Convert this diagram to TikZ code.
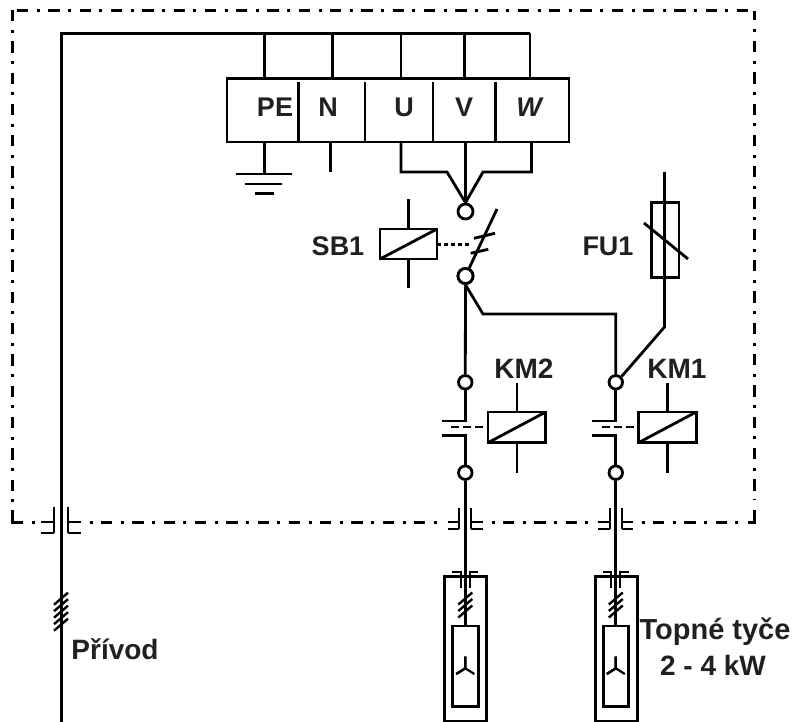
\documentclass[tikz,border=0pt]{standalone}
\usepackage{fontspec}
\setmainfont{Liberation Sans}
\definecolor{ink}{RGB}{35,31,32}
\tikzset{
  x=1pt,y=-1pt,
  wire/.style={line width=2.8pt,black,line join=miter},
  thin wire/.style={line width=2.2pt,black},
  frameline/.style={line width=3pt,black,dash pattern=on 11.3pt off 8.5pt on 3pt off 8.5pt},
  framestart/.style={frameline,dash phase=19.8pt},
  solidframe/.style={line width=3pt,black},
  term/.style={circle,draw=black,line width=2.8pt,fill=white,minimum size=15pt,inner sep=0pt},
  termb/.style={term,minimum size=13.5pt},
  lab/.style={font=\fontsize{27}{30}\selectfont\bfseries,text=ink,inner sep=0pt,anchor=center},
  labm/.style={font=\fontsize{28}{30}\selectfont\bfseries,text=ink,inner sep=0pt,anchor=center},
  labw/.style={font=\fontsize{29}{30}\selectfont\bfseries,text=ink,inner sep=0pt,anchor=center},
  coil/.style={draw=black,line width=2.8pt,fill=white,inner sep=0pt}
}
\newcommand{\bulkhead}[6]{% left v, right v, top, bottom, outer
  \draw[thin wire] (#2,#4) -- (#2,#5) (#3,#4) -- (#3,#5);
  \draw[thin wire] (#2-#6,#5) -- (#2,#5) (#3,#5) -- (#3+#6,#5);
  \draw[thin wire] (#2-#6,522) -- (#2,522) (#3,522) -- (#3+#6,522);
}
\newcommand{\heaterbulk}[1]{%
  \draw[thin wire] (#1-4.5,588) -- (#1-4.5,571.7) -- (#1-13,571.7);
  \draw[thin wire] (#1+4.5,588) -- (#1+4.5,571.7) -- (#1+13,571.7);
}
\newcommand{\ticks}[2]{% x, y-centre
  \draw[line width=2.4pt,black] (#1-7,#2+6) -- (#1+7,#2-6);
}
\newcommand{\coilsym}[5]{% name x1 x2 y1 y2
  \draw[coil] (#2,#4) rectangle (#3,#5);
  \draw[wire] (#2,#5) -- (#3,#4);
}
\begin{document}
\begin{tikzpicture}
\useasboundingbox (0,0) rectangle (793,722);
% ---- dash-dot enclosure
\draw[frameline] (17,10.5) -- (750,10.5);
\draw[frameline] (12,10) -- (12,509);
\draw[solidframe] (12,510) -- (12,522) -- (23,522);
\draw[solidframe] (32,522) -- (35,522);
\draw[frameline] (754,41) -- (754,500);
\draw[solidframe] (754,11) -- (754,20);
\draw[solidframe] (754,29) -- (754,32);
\draw[solidframe] (754,510) -- (754,522) -- (748,522);
\draw[framestart] (89.5,522) -- (441,522);
\draw[framestart] (491.5,522) -- (590,522);
\draw[framestart] (641.5,522) -- (739,522);
% ---- terminal block
\node[draw=black,line width=2.8pt,minimum width=342pt,minimum height=63.5pt,inner sep=0pt] (block) at (398,110.2) {};
\foreach \x in {298.5,365,433,495.5} \draw[thin wire] (\x,82) -- (\x,142);
\node[lab] (tpe) at (275,107) {PE};
\node[lab] (tn) at (328,107) {N};
\node[lab] (tu) at (404,107) {U};
\node[lab] (tv) at (464,107) {V};
\node[lab] (tw) at (529,107) {\itshape W};
% ---- supply
\coordinate (sbus) at (61,33.5);
\coordinate (send) at (530,33.5);
\draw[line width=3pt] (61,722) -- (sbus) -- (send);
\foreach \x in {264.5,332.5,401,464.5,530} \draw[wire] (\x,33.5) -- (\x,78);
\foreach \y in {598.7,605.2,611.7,618.2,624.7} \ticks{61}{\y}
% ---- below block
\draw[wire] (264.5,142) -- (264.5,174);
\draw[wire] (236,174) -- (292,174);
\draw[wire] (245,184) -- (282,184);
\draw[wire] (255,193.5) -- (274,193.5);
\draw[thin wire] (330.5,142) -- (330.5,172);
% ---- switch terminals
\node[term] (c1) at (465.5,211.5) {};
\node[term] (c2) at (465.5,276) {};
\node[termb] (k2t) at (465.3,382.3) {};
\node[termb] (k2b) at (465.3,472.7) {};
\node[termb] (k1t) at (615.8,382.3) {};
\node[termb] (k1b) at (615.8,472.7) {};
\draw[wire] (401,142) -- (401,172) -- (447,172) -- (c1.north);
\draw[wire] (531.5,142) -- (531.5,172) -- (483,172) -- (c1.north);
\draw[wire] (465.5,142) -- (c1.north);
\draw[wire] (c2) -- (497,209);
\node[term] at (c2) {};
\draw[wire] (474,238.3) -- (495,233.3);
\draw[wire] (470.7,253.3) -- (488.3,249.3);
\draw[line width=3pt,dash pattern=on 4pt off 3pt] (437,245) -- (470,245);
% SB1 coil
\draw[wire] (408.5,199) -- (408.5,229) (408.5,259) -- (408.5,288);
\coilsym{sb}{380}{437}{229}{259}
\node[lab] (sb1) at (338,246) {SB1};
% ---- branches
\draw[wire] (c2.south) -- (k2t.north);
\draw[wire] (c2.south) -- (483,314) -- (615.8,314) -- (k1t.north);
% KM2
\draw[wire] (k2t.south) -- (465.3,421) -- (441.7,421);
\draw[wire] (441.7,435.3) -- (465.3,435.3) -- (k2b.north);
\draw[thin wire,dash pattern=on 8pt off 4pt] (451,427.3) -- (488,427.3);
\draw[wire] (517,382.7) -- (517,412) (517,442.7) -- (517,472.7);
\coilsym{km2}{488}{545.7}{412}{442.7}
\node[labm] (km2l) at (524,369) {KM2};
% KM1
\draw[wire] (k1t.south) -- (615.8,421) -- (592.2,421);
\draw[wire] (592.2,435.3) -- (615.8,435.3) -- (k1b.north);
\draw[thin wire,dash pattern=on 8pt off 4pt] (601.5,427.3) -- (638.5,427.3);
\draw[wire] (667.5,382.7) -- (667.5,412) (667.5,442.7) -- (667.5,472.7);
\coilsym{km1}{638.5}{696.2}{412}{442.7}
\node[labm] (km1l) at (677,369) {KM1};
% ---- fuse
\draw[wire] (664.5,172) -- (664.5,327) -- (k1t.north east);
\draw[wire] (651.7,202.7) rectangle (679,277.3);
\draw[wire] (644,223) -- (688,259);
\node[lab] (fu1) at (608,246) {FU1};
% ---- bulkhead crossings
\bulkhead{61}{54}{68}{507}{533}{13}
\bulkhead{465.3}{459.3}{471.3}{508}{529}{11.5}
\bulkhead{615.8}{609.8}{621.8}{508}{529}{11.5}
% ---- heaters
\foreach \x in {465.3,615.8} {
  \draw[wire] (\x-20.5,721) rectangle (\x+21.5,576.7);
  \draw[wire] (\x-12.7,626) rectangle (\x+13,706.7);
  \heaterbulk{\x}
  \foreach \y in {598.5,605,611.5} \ticks{\x}{\y}
  \draw[thin wire] (\x,656.7) -- (\x,668.3) -- (\x-9,674);
  \draw[thin wire] (\x,668.3) -- (\x+9,674);
}
\draw[wire] (k2b.south) -- (465.3,626);
\draw[wire] (k1b.south) -- (615.8,626);
% ---- labels
\node[labm] (priv) at (115,649) {Přívod};
\node[labw] (top) at (715,632) {Topné tyče};
\node[labm] (kw) at (713,665) {2 - 4 kW};
\end{tikzpicture}
\end{document}
